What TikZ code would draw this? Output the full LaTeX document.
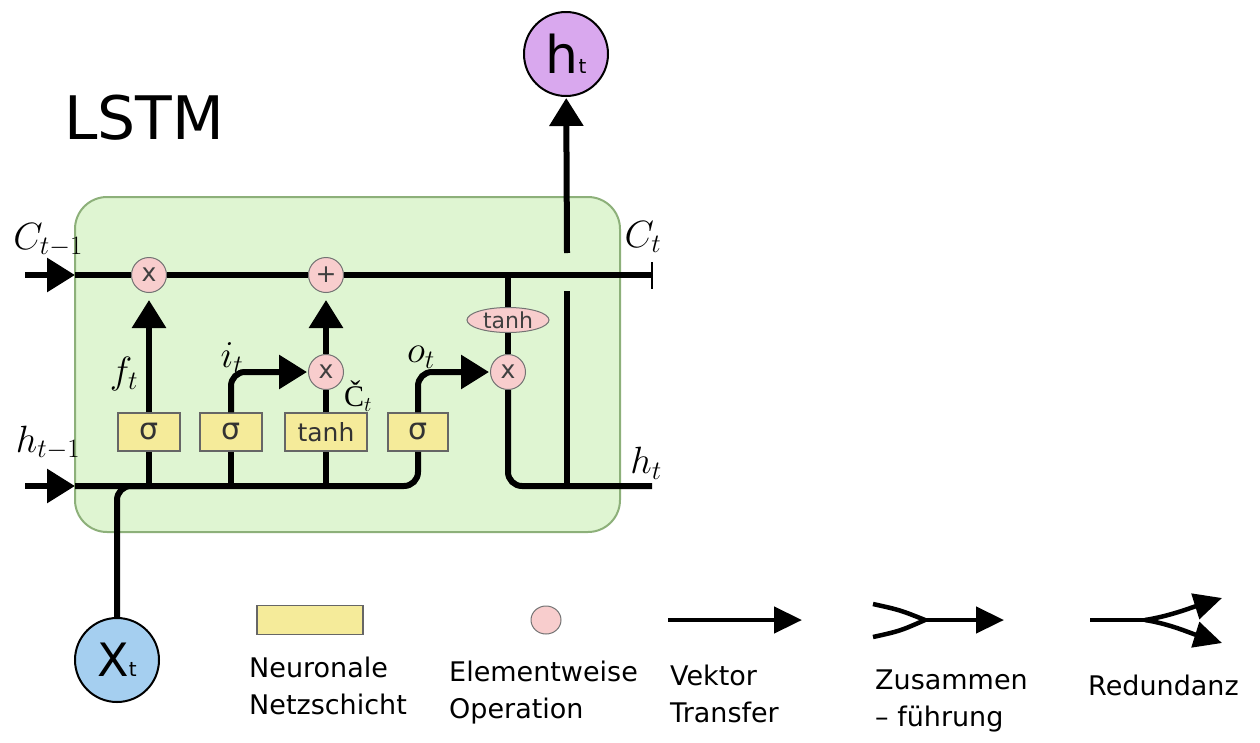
\documentclass[tikz,border=0pt]{standalone}
\usepackage{fix-cm}
\usepackage{fontspec}
\setmainfont{DejaVu Sans}
\newfontfamily\labelserif{Liberation Serif}
\usetikzlibrary{arrows.meta,shapes.geometric}
\definecolor{cellgreen}{HTML}{DFF5D2}
\definecolor{cellborder}{HTML}{8DB07A}
\definecolor{layeryellow}{HTML}{F5EB9A}
\definecolor{oppink}{HTML}{F8CDCD}
\definecolor{outpurple}{HTML}{D9A8EE}
\definecolor{inblue}{HTML}{A5CFF0}
\begin{document}
\begin{tikzpicture}[x=1pt,y=-1pt,
    layer/.style={draw=black!60, line width=1.5pt, fill=layeryellow, minimum width=62pt, minimum height=38pt, inner sep=0pt, text=black!80, font=\fontsize{30}{30}\selectfont},
    op/.style={circle, draw=black!55, line width=1pt, fill=oppink, minimum size=35pt, inner sep=0pt, text=black!75, font=\fontsize{25}{25}\selectfont},
    flow/.style={line width=6pt},
    arr/.style={line width=6pt, -{Triangle[width=33pt,length=28pt]}},
    io/.style={circle, draw=black, line width=2pt, minimum size=84pt, inner sep=0pt},
    lbl/.style={font=\fontsize{38}{38}\selectfont},
    legend/.style={align=left, anchor=north west, inner sep=0pt, font=\fontsize{27}{37}\selectfont},
    legarr/.style={line width=4.5pt, -{Triangle[width=26pt,length=28pt]}}
]
\useasboundingbox (0,0) rectangle (1260,742);

% cell
\draw[draw=cellborder, fill=cellgreen, line width=2pt, rounded corners=32pt] (75,197) rectangle (620,532);
\node[font=\fontsize{60}{60}\selectfont] (title) at (144,118) {LSTM};

% layers and operations
\node[layer] (sg1) at (149,432) {σ};
\node[layer] (sg2) at (231,432) {σ};
\node[layer, minimum width=82pt, font=\fontsize{25}{25}\selectfont] (th) at (326,432) {tanh};
\node[layer, minimum width=60pt] (sg3) at (418,432) {σ};
\node[op] (m1) at (149,275) {x};
\node[op] (add) at (326,275) {+};
\node[op] (m2) at (326,372) {x};
\node[op] (m3) at (508,372) {x};
\node[ellipse, draw=black!55, line width=1pt, fill=oppink, minimum width=82pt, minimum height=25pt, inner sep=0pt, text=black!75, font=\fontsize{22}{22}\selectfont] (thc) at (508,320) {tanh};

\node[io, fill=outpurple] (hout) at (566,54) {\fontsize{52}{52}\selectfont h\fontsize{20}{20}\selectfont t};
\node[io, fill=inblue] (xin) at (117,660) {\fontsize{46}{46}\selectfont X\fontsize{20}{20}\selectfont t};

\coordinate (cin) at (25,275);
\coordinate (ccell) at (75,275);
\coordinate (cend) at (652,275);
\coordinate (ctap) at (508,275);
\coordinate (hin) at (25,486);
\coordinate (hcell) at (75,486);
\coordinate (hend) at (652,486);
\coordinate (hsplit) at (567,486);
\coordinate (gaplow) at (567,291);
\coordinate (gaphigh) at (567,253);
\coordinate (xjoin) at (150,486);

% cell state
\draw[arr] (cin) -- (ccell);
\draw[flow] (ccell) -- (m1) -- (add) -- (cend);
\draw[line width=2pt] ([yshift=13pt]cend) -- ([yshift=-14pt]cend);

% hidden state in
\draw[arr] (hin) -- (hcell);
\draw[flow, rounded corners=14pt] (hcell) -| (sg3.south);
\draw[flow, rounded corners=14pt] (xin.north) |- (xjoin);
\draw[flow] (sg1.south) -- (sg1.south |- hcell);
\draw[flow] (sg2.south) -- (sg2.south |- hcell);
\draw[flow] (th.south) -- (th.south |- hcell);

% gates
\draw[arr, shorten >=7pt] (sg1) -- (m1);
\draw[arr, rounded corners=14pt, shorten >=1pt] (sg2.north) |- (m2.west);
\draw[flow] (th) -- (m2);
\draw[arr, shorten >=7pt] (m2) -- (add);
\draw[arr, rounded corners=14pt, shorten >=1pt] (sg3.north) |- (m3.west);
\draw[flow] (ctap) -- (thc);
\draw[flow] (thc) -- (m3);
\draw[flow, rounded corners=14pt] (m3) |- (hend);

% output
\draw[flow] (hsplit) -- (gaplow);
\draw[arr, shorten >=1pt] (gaphigh) -- (hout);

% labels
\node[lbl] (lcin) at (48,240) {$C_{t-1}$};
\node[lbl] (lcout) at (643,237) {$C_t$};
\node[lbl] (lhin) at (48,443) {$h_{t-1}$};
\node[lbl] (lhout) at (646,463) {$h_t$};
\node[lbl] (lf) at (124,374) {$f_t$};
\node[lbl] (li) at (232,358) {$i_t$};
\node[lbl] (lo) at (421,357) {$o_t$};
\node[font=\fontsize{30}{30}\selectfont, inner sep=0pt] (lc) at (358,396) {{\labelserif Č}$_t$};

% legend
\node[layer, minimum width=106pt, minimum height=29pt] (lglayer) at (310,620) {};
\node[op, minimum width=30pt, minimum height=28pt, ellipse] (lgop) at (546,620) {};
\coordinate (vfrom) at (668,620);
\coordinate (vto) at (802,620);
\draw[legarr] (vfrom) -- (vto);
\coordinate (ma) at (873,604);
\coordinate (mb) at (873,637);
\coordinate (mj) at (925,620);
\coordinate (mto) at (1004,620);
\draw[line width=4.5pt] (ma) .. controls (900,610) .. (mj);
\draw[line width=4.5pt] (mb) .. controls (900,631) .. (mj);
\draw[legarr] (mj) -- (mto);
\coordinate (rfrom) at (1090,620);
\coordinate (rj) at (1145,620);
\coordinate (ra) at (1222,598);
\coordinate (rb) at (1222,643);
\draw[line width=4.5pt] (rfrom) -- (rj);
\draw[legarr] (rj) .. controls (1170,616) and (1190,608) .. (ra);
\draw[legarr] (rj) .. controls (1170,624) and (1190,633) .. (rb);

\node[legend] (tlayer) at (249,657) {Neuronale\\Netzschicht};
\node[legend] (top) at (449,661) {Elementweise\\Operation};
\node[legend] (tvec) at (670,665) {Vektor\\Transfer};
\node[legend] (tmerge) at (875,670) {Zusammen\\– führung};
\node[legend] (tred) at (1088,675) {Redundanz};
\end{tikzpicture}
\end{document}
